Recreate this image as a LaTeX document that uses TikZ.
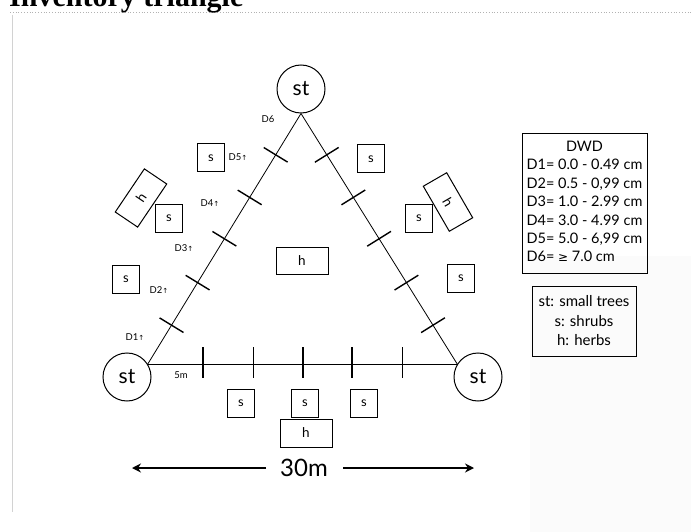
\documentclass[tikz,border=0pt]{standalone}
\usepackage{fontspec}
\setmainfont{Lato}
\newfontfamily\titlefont{Liberation Serif}
\newfontfamily\symfont{DejaVu Sans}
\usetikzlibrary{calc,arrows.meta}
\tikzset{
  stcirc/.style={circle, draw, line width=1pt, minimum size=48pt, inner sep=0pt, font=\fontsize{21}{21}\selectfont},
  sbox/.style={draw, line width=1pt, minimum width=27pt, minimum height=28pt, inner sep=0pt, font=\fontsize{13}{13}\selectfont},
  hbox/.style={draw, line width=1pt, minimum width=52pt, minimum height=27pt, inner sep=0pt, font=\fontsize{13.5}{13.5}\selectfont},
  dlab/.style={font=\fontsize{9.5}{9.5}\selectfont, inner sep=0pt},
  side/.style={line width=0.8pt},
  ticka/.style={line width=1.4pt},
  tickb/.style={line width=0.9pt},
  legend/.style={draw, line width=0.8pt, inner sep=0pt},
  bigarrow/.style={line width=1.5pt, -{Stealth[length=9pt,width=9pt]}}
}
\begin{document}
\begin{tikzpicture}[x=1pt,y=-1pt]
\useasboundingbox (0,0) rectangle (691,532);
\clip (0,0) rectangle (691,532);
\fill[black!1.5] (530,256) rectangle (691,532);
% frame remnants
\draw[gray!60, dotted, line width=0.8pt] (10,12) -- (691,12);
\draw[gray!35, line width=0.8pt] (12,15) -- (12,512);
\node[anchor=base west, inner sep=0pt, font=\titlefont\bfseries\fontsize{30}{30}\selectfont] (title) at (9,7) {Inventory triangle};
% small tree circles
\node[stcirc] (T) at (301,89) {st};
\node[stcirc] (L) at (127,377) {st};
\node[stcirc] (R) at (478,377) {st};
\coordinate (TV) at (T.south);
\coordinate (LV) at (L.32);
\coordinate (RV) at (R.148);
% sides
\draw[side] (LV) -- (TV);
\draw[side] (RV) -- (TV);
\draw[side] (LV) -- (RV);
% ticks on the left and right sides
\foreach \t [count=\i] in {0.155,0.325,0.5,0.665,0.835}{
  \coordinate (lt\i) at ($(LV)!\t!(TV)$);
  \draw[ticka] ($(lt\i)!14pt!90:(TV)$) -- ($(lt\i)!14pt!-90:(TV)$);
  \coordinate (rt\i) at ($(RV)!\t!(TV)$);
  \draw[ticka] ($(rt\i)!14pt!90:(TV)$) -- ($(rt\i)!14pt!-90:(TV)$);
}
% ticks on the base
\foreach \x/\s in {203/ticka,253/tickb,303/ticka,352/ticka,402/tickb}{
  \draw[\s] (\x,347) -- (\x,378);
}
% DWD labels
\node[dlab] (d6) at (268,119) {D6};
\node[dlab] (d5) at (238,157) {D5{\symfont\fontsize{7}{7}\selectfont↑}};
\node[dlab] (d4) at (210,203) {D4{\symfont\fontsize{7}{7}\selectfont↑}};
\node[dlab] (d3) at (184,248) {D3{\symfont\fontsize{7}{7}\selectfont↑}};
\node[dlab] (d2) at (159,290) {D2{\symfont\fontsize{7}{7}\selectfont↑}};
\node[dlab] (d1) at (135,337) {D1{\symfont\fontsize{7}{7}\selectfont↑}};
\node[dlab] (m5) at (181,375) {5m};
% shrubs and herbs
\node[sbox] (s1) at (211,158) {s};
\node[sbox] (s2) at (169,218) {s};
\node[hbox, rotate=56] (h1) at (141,198) {h};
\node[sbox] (s3) at (126,279) {s};
\node[sbox] (s4) at (371,159) {s};
\node[sbox] (s5) at (419,218) {s};
\node[hbox, rotate=-60] (h2) at (448,202) {h};
\node[sbox] (s6) at (461,278) {s};
\node[hbox] (h3) at (302,261) {h};
\node[sbox] (s7) at (241,403) {s};
\node[sbox] (s8) at (305,403) {s};
\node[sbox] (s9) at (364,403) {s};
\node[hbox, minimum height=28pt] (h4) at (306,433) {h};
% 30 m arrow
\node[font=\fontsize{24}{24}\selectfont, inner sep=0pt] (len) at (304,468) {30m};
\coordinate (a1s) at (266,468);
\coordinate (a1e) at (132,468);
\coordinate (a2s) at (343,468);
\coordinate (a2e) at (474,468);
\draw[bigarrow] (a1s) -- (a1e);
\draw[bigarrow] (a2s) -- (a2e);
% legends
\node[legend, minimum width=125pt, minimum height=140pt, font=\fontsize{14.5}{18.4}\selectfont] (dwd) at (584.5,203)
  {\begin{tabular}{@{}l@{}}\multicolumn{1}{@{}c@{}}{DWD}\\D1= 0.0 - 0.49 cm\\D2= 0.5 - 0,99 cm\\D3= 1.0 - 2.99 cm\\D4= 3.0 - 4.99 cm\\D5= 5.0 - 6,99 cm\\D6= {\symfont\fontsize{12}{12}\selectfont ≥} 7.0 cm\end{tabular}};
\node[legend, minimum width=104pt, minimum height=70pt, align=center, font=\fontsize{15}{19.5}\selectfont] (key) at (584,321)
  {st: small trees\\s: shrubs\\h: herbs};
\end{tikzpicture}
\end{document}
